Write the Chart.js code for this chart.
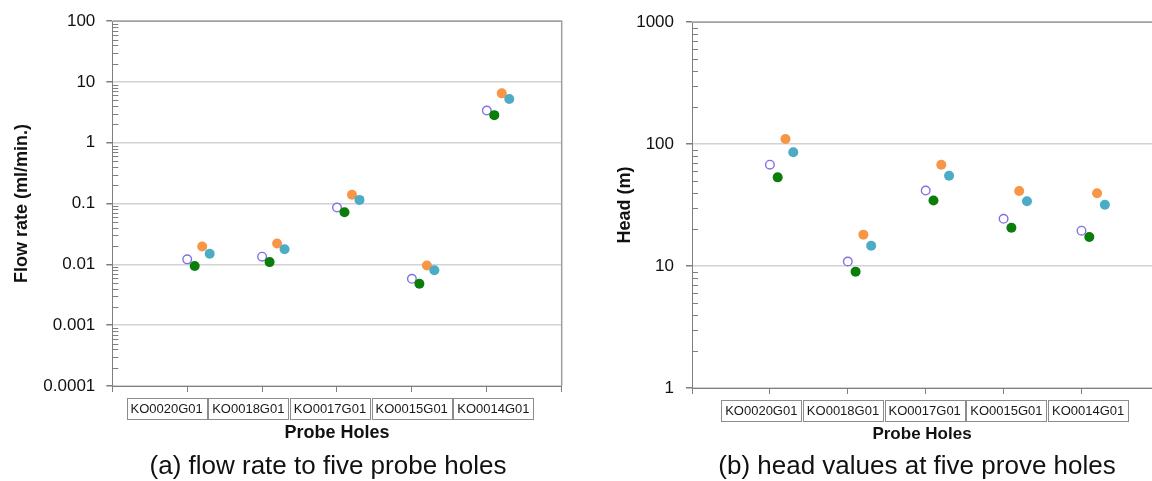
<!DOCTYPE html>
<html>
<head>
<meta charset="utf-8">
<script src="https://cdn.jsdelivr.net/npm/chart.js@4.4.1/dist/chart.umd.min.js"></script>
<style>
  body { margin: 0; background: #fff; width: 1152px; height: 481px; overflow: hidden; position: relative;
         font-family: "Liberation Sans", Arial, sans-serif; }
  .panel { position: absolute; top: 0; width: 576px; height: 481px; }
  .caption { position: absolute; top: 450px; width: 576px; text-align: center; white-space: nowrap;
             font-size: 26px; line-height: 30px; color: #111; }
</style>
</head>
<body>
<div class="panel" style="left:0"><canvas id="flowChart" width="576" height="481"></canvas></div>
<div class="panel" style="left:576px"><canvas id="headChart" width="576" height="481"></canvas></div>
<div class="caption" style="left:40px">(a) flow rate to five probe holes</div>
<div class="caption" style="left:629px">(b) head values at five prove holes</div>

<script>
// ===== DATA =====
const holes = ["KO0020G01", "KO0018G01", "KO0017G01", "KO0015G01", "KO0014G01"];

// flow rate (ml/min.)
const flowOpen   = [0.0121, 0.0134, 0.086, 0.0058, 3.39];
const flowGreen  = [0.0094, 0.0109, 0.072, 0.0048, 2.85];
const flowOrange = [0.0197, 0.0221, 0.140, 0.0096, 6.5];
const flowBlue   = [0.0150, 0.0178, 0.115, 0.0080, 5.27];
const flowTicks  = [0.0001, 0.001, 0.01, 0.1, 1, 10, 100];

// head (m)
const headOpen   = [67.8, 10.9, 41.6, 24.4, 19.5];
const headGreen  = [53.4, 9.0, 34.5, 20.6, 17.3];
const headOrange = [110, 18.1, 67.8, 41.3, 39.5];
const headBlue   = [85.9, 14.7, 55.1, 34.0, 31.8];
const headTicks  = [1, 10, 100, 1000];

// ===== STYLES =====
const AXIS = "#7f7f7f";
const GRID = "#d2d2d2";
const FONT = "'Liberation Sans', Arial, sans-serif";

const seriesStyle = [
  { key: "open",   shift: 0.0, color: "#7f71e3", hollow: true, order: 4 },
  { key: "green",  shift: 0.1, color: "#0a7d0a", order: 3 },
  { key: "orange", shift: 0.2, color: "#f79646", order: 2 },
  { key: "blue",   shift: 0.3, color: "#4bacc6", order: 1 }
];

// short minor ticks on the inside of the log axis + the grey frame on top/right
const frameAndMinor = {
  id: "frameAndMinor",
  afterDatasetsDraw(chart) {
    const { ctx, chartArea: a, scales: { y } } = chart;
    const o = chart.options.plugins.frameAndMinor;
    ctx.save();
    ctx.strokeStyle = AXIS;
    ctx.lineWidth = 1;
    ctx.beginPath();
    o.decades.slice(0, -1).forEach(d => {
      for (let m = 2; m <= 9; m++) {
        const py = Math.round(y.getPixelForValue(d * m)) + 0.5;
        ctx.moveTo(a.left, py);
        ctx.lineTo(a.left + 6, py);
      }
    });
    ctx.stroke();

    ctx.strokeStyle = "#a0a0a0";
    ctx.lineWidth = 1.5;
    ctx.beginPath();
    ctx.moveTo(a.left, a.top);
    ctx.lineTo(a.right, a.top);
    if (o.rightEdge) ctx.lineTo(a.right, a.bottom);
    ctx.stroke();
    ctx.restore();
  }
};

// boxed hole names under the x axis
const holeBoxes = {
  id: "holeBoxes",
  afterDraw(chart) {
    const { ctx, chartArea: a, scales: { x } } = chart;
    const o = chart.options.plugins.holeBoxes;
    const w = 80, h = 21, pitch = 81.7;
    const mid = x.getPixelForValue((holes.length + 1) / 2) + o.shift;
    ctx.save();
    ctx.font = "13px " + FONT;
    ctx.textAlign = "center";
    ctx.textBaseline = "middle";
    holes.forEach((name, i) => {
      const cx = mid + (i - (holes.length - 1) / 2) * pitch;
      const top = a.bottom + o.gap;
      ctx.strokeStyle = "#8c8c8c";
      ctx.lineWidth = 1;
      ctx.strokeRect(Math.round(cx - w / 2) + 0.5, Math.round(top) + 0.5, w, h);
      ctx.fillStyle = "#1a1a1a";
      ctx.fillText(name, cx, top + h / 2 + 1);
    });
    ctx.restore();
  }
};

function makeChart(id, series, yTicks, yTitle, lay) {
  const datasets = seriesStyle.map((s, k) => ({
    label: s.key,
    data: series[k].map((v, i) => ({ x: i + 1 + s.shift, y: v })),
    order: s.order,
    pointRadius: s.hollow ? 4.3 : 5,
    pointBorderWidth: s.hollow ? 1.4 : 0,
    pointBorderColor: s.color,
    pointBackgroundColor: s.hollow ? "#ffffff" : s.color,
    showLine: false
  }));

  return new Chart(document.getElementById(id), {
    type: "scatter",
    data: { datasets },
    plugins: [frameAndMinor, holeBoxes],
    options: {
      responsive: false,
      animation: false,
      layout: { autoPadding: false, padding: { top: 20, right: lay.right, bottom: 0, left: 0 } },
      plugins: {
        legend: { display: false },
        tooltip: { enabled: false },
        frameAndMinor: { decades: yTicks, rightEdge: lay.rightEdge },
        holeBoxes: { shift: lay.boxShift, gap: 12 }
      },
      scales: {
        x: {
          type: "linear",
          min: 0,
          max: lay.xMax,
          afterBuildTicks: s => {
            s.ticks = [];
            for (let k = 0; k <= holes.length + 1 && k <= lay.xMax; k++) s.ticks.push({ value: k });
          },
          afterFit: s => { s.height = lay.xHeight; },
          ticks: { display: false },
          grid: { drawOnChartArea: false, drawTicks: true, tickLength: 6, tickColor: AXIS },
          border: { color: AXIS, width: 1 },
          title: {
            display: true, text: "Probe Holes", color: "#111",
            font: { family: FONT, size: lay.xTitleSize, weight: "bold" },
            padding: { top: 0, bottom: lay.xTitlePad }
          }
        },
        y: {
          type: "logarithmic",
          min: yTicks[0],
          max: yTicks[yTicks.length - 1],
          afterBuildTicks: s => { s.ticks = yTicks.map(v => ({ value: v, major: true })); },
          afterFit: s => { s.width = lay.yWidth; },
          ticks: {
            autoSkip: false, padding: lay.tickPad, color: "#111",
            font: { family: FONT, size: 17 },
            callback: v => String(v)
          },
          grid: { color: GRID, lineWidth: 1.5, drawTicks: true, tickLength: 6, tickColor: AXIS },
          border: { color: AXIS, width: 1 },
          title: {
            display: true, text: yTitle, color: "#111",
            font: { family: FONT, size: 18, weight: "bold" },
            padding: { top: lay.yTitlePad, bottom: 0 }
          }
        }
      }
    }
  });
}

makeChart("flowChart", [flowOpen, flowGreen, flowOrange, flowBlue], flowTicks, "Flow rate (ml/min.)",
  { right: 14.3, rightEdge: true, xMax: 6, yWidth: 112.3, xHeight: 95, xTitlePad: 37, xTitleSize: 18,
    tickPad: 11, yTitlePad: 11.5, boxShift: -7 });

makeChart("headChart", [headOpen, headGreen, headOrange, headBlue], headTicks, "Head (m)",
  { right: 0, rightEdge: false, xMax: 5.905, yWidth: 116, xHeight: 93, xTitlePad: 36, xTitleSize: 17,
    tickPad: 12, yTitlePad: 38.5, boxShift: -1 });
</script>
</body>
</html>
